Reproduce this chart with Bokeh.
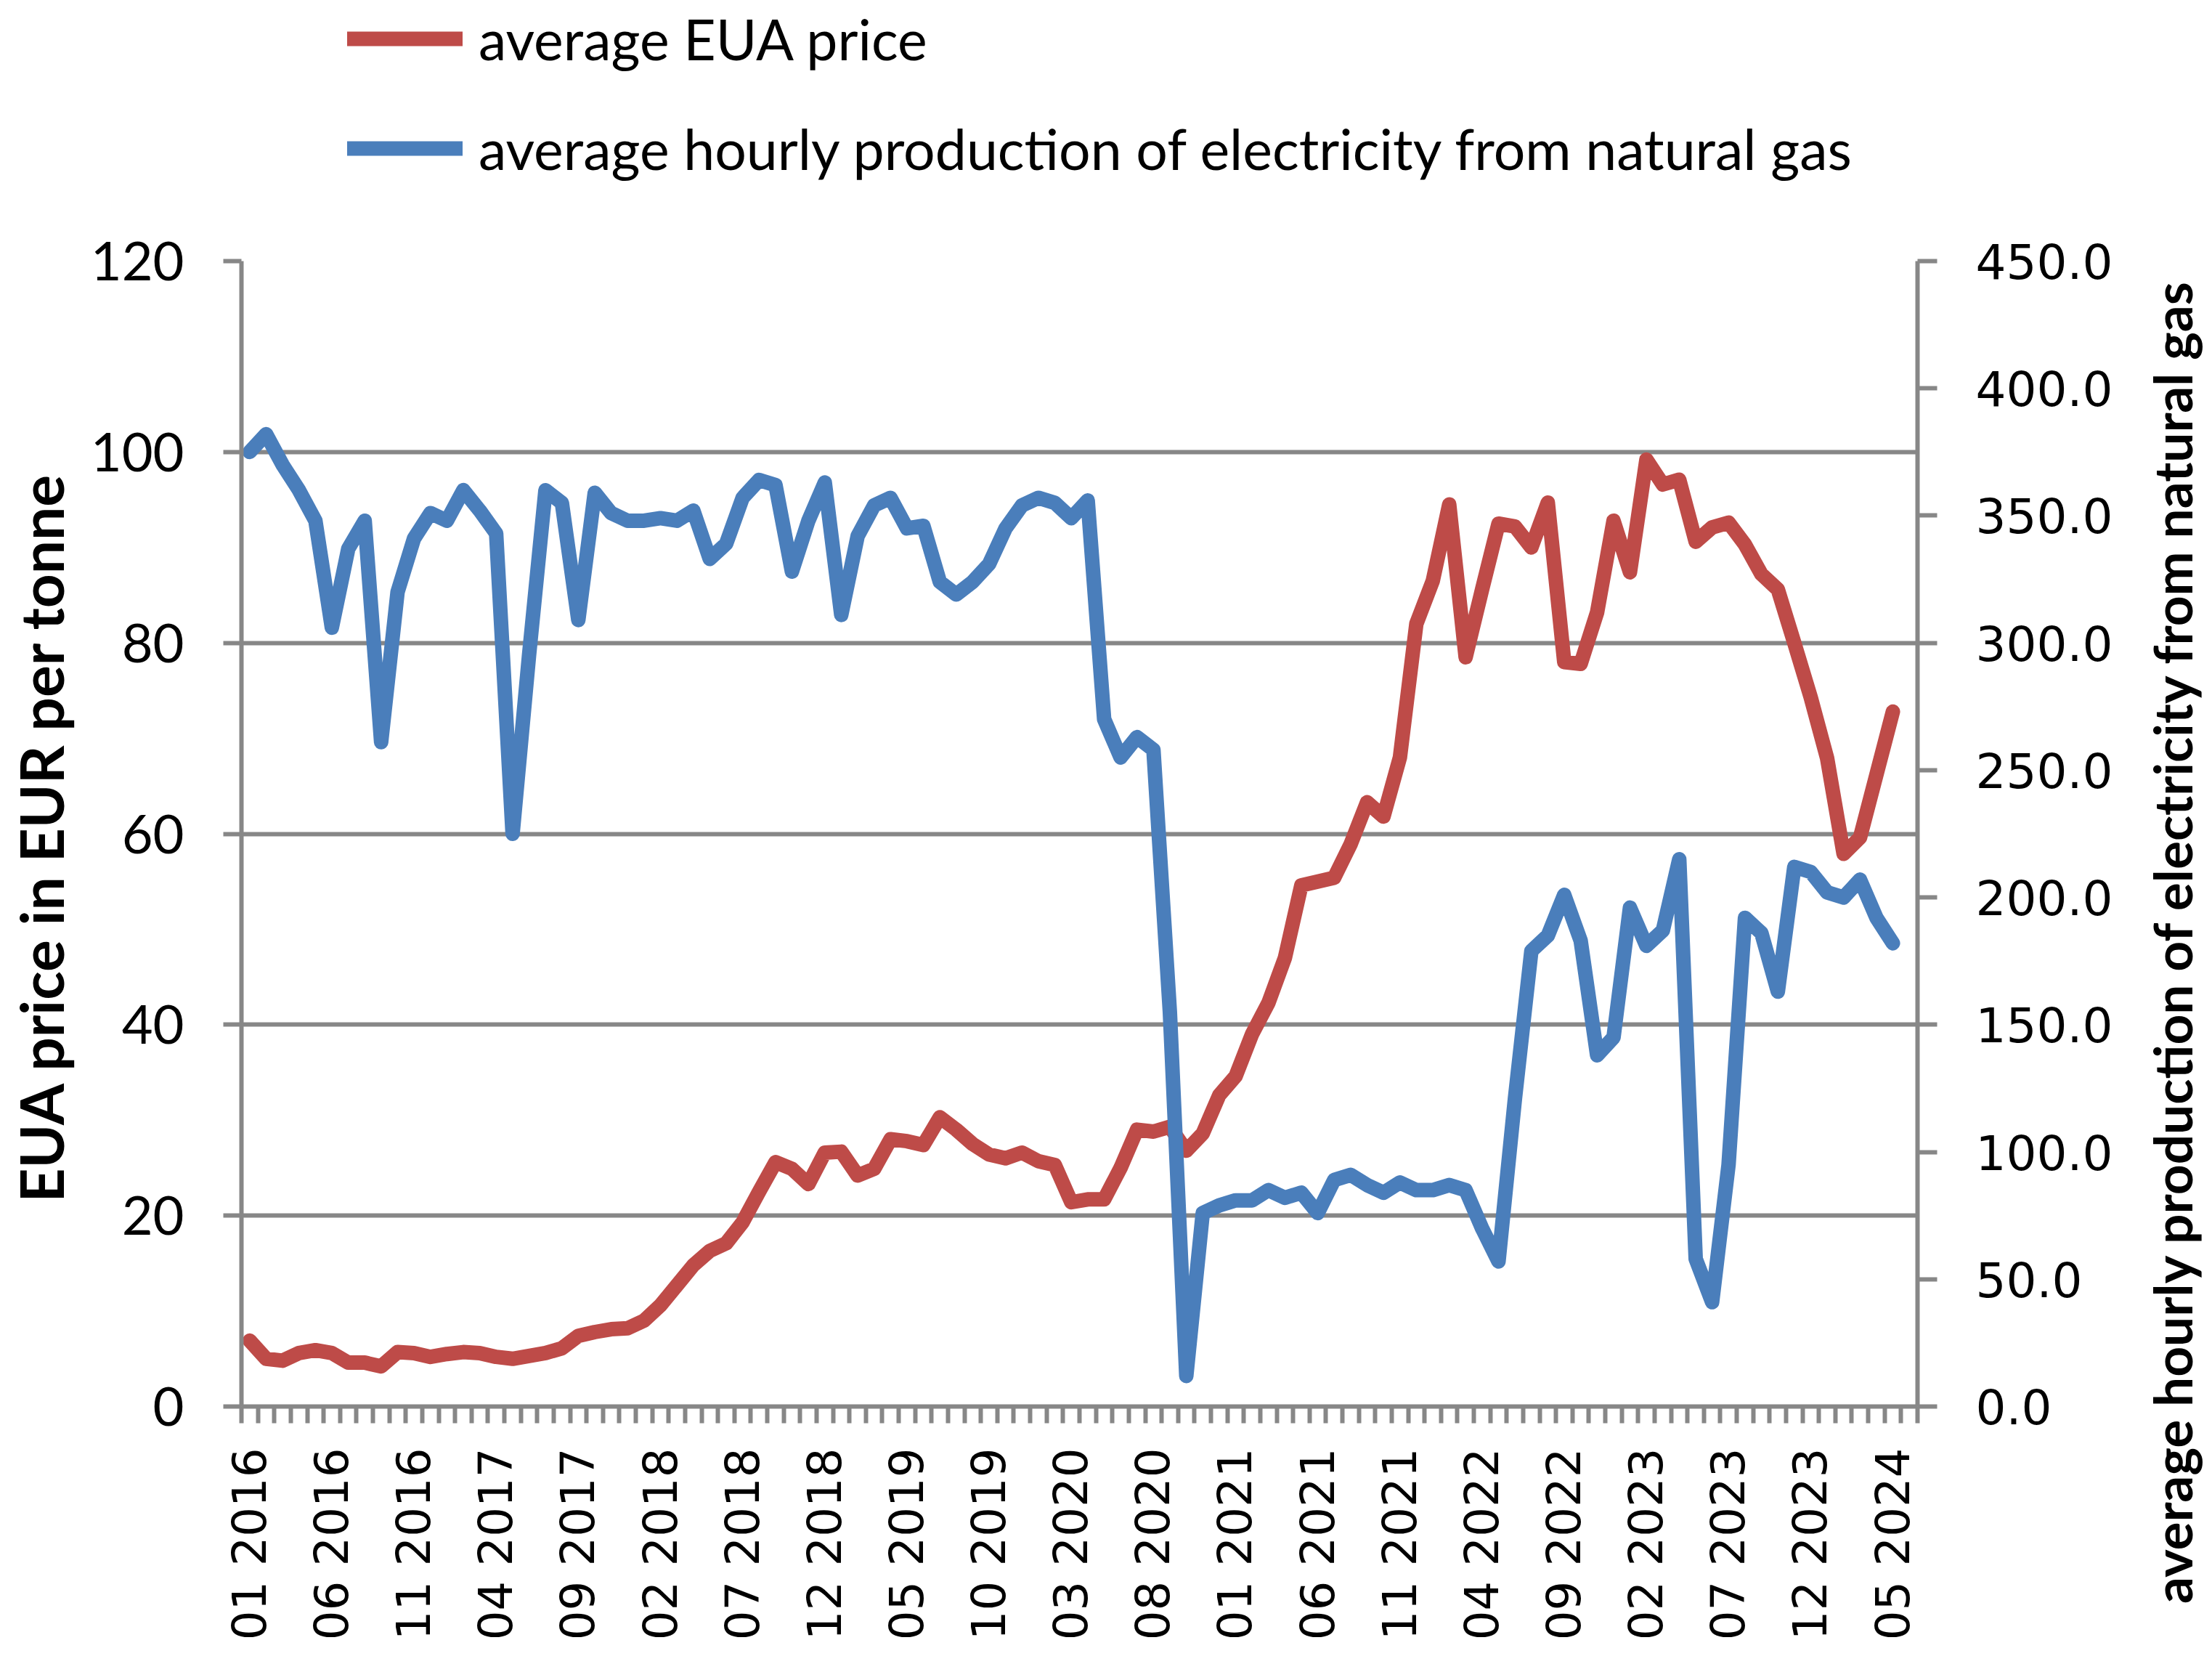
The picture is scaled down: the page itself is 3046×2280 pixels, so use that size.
import math
import numpy as np
from bokeh.plotting import figure
from bokeh.layouts import row, column
from bokeh.models import (Range1d, LinearAxis, FixedTicker, Legend, LegendItem,
                          Label, PrintfTickFormatter)
from bokeh.embed import file_html
from bokeh.resources import INLINE

# ---------------- data ----------------
# monthly categories 01 2016 .. 06 2024 (the last category has no data)
months = [f"{m:02d} {y}" for y in range(2016, 2025) for m in range(1, 13)][:102]

eua_price = [6.9, 5.0, 4.8, 5.6, 5.9, 5.6, 4.6, 4.6, 4.2, 5.7,
             5.6, 5.2, 5.5, 5.7, 5.6, 5.2, 5.0, 5.3, 5.6, 6.1,
             7.4, 7.8, 8.1, 8.2, 9.0, 10.6, 12.7, 14.8, 16.3, 17.1,
             19.3, 22.5, 25.6, 24.9, 23.3, 26.6, 26.7, 24.2, 24.9, 28.0,
             27.8, 27.4, 30.3, 29.0, 27.5, 26.4, 26.0, 26.6, 25.7, 25.3,
             21.4, 21.7, 21.7, 25.0, 29.0, 28.8, 29.3, 26.8, 28.6, 32.6,
             34.6, 39.0, 42.3, 47.0, 54.6, 55.0, 55.4, 58.9, 63.3, 61.8,
             68.0, 82.0, 86.5, 94.5, 78.5, 85.6, 92.5, 92.2, 90.0, 94.7,
             78.0, 77.8, 83.2, 92.8, 87.4, 99.2, 96.6, 97.1, 90.6, 92.1,
             92.6, 90.3, 87.2, 85.6, 80.0, 74.3, 67.9, 57.9, 59.6, 66.2,
             72.8]

gas_production = [375, 382, 370, 360, 348, 306, 337, 348, 261, 320,
                  341, 351, 348, 360, 352, 343, 225, 295, 360, 355,
                  309, 359, 351, 348, 348, 349, 348, 352, 333, 339,
                  357, 364, 362, 328, 348, 363, 311, 342, 354, 357,
                  345, 346, 324, 319, 324, 331, 345, 354, 357, 355,
                  349, 356, 270, 255, 263, 258, 155, 12, 76, 79,
                  81, 81, 85, 82, 84, 76, 89, 91, 87, 84,
                  88, 85, 85, 87, 85, 70, 57, 121, 179, 185,
                  201, 183, 138, 145, 196, 181, 187, 215, 58, 41,
                  95, 192, 186, 163, 212, 210, 202, 200, 207, 192,
                  182]

left_ticks = [0, 20, 40, 60, 80, 100, 120]
right_ticks = [0, 50, 100, 150, 200, 250, 300, 350, 400, 450]
label_step = 5

series_names = ["average EUA price",
                "average hourly production of electricity from natural gas"]
left_title = "EUA price in EUR per tonne"
right_title = "average hourly production of electricity from natural gas"

# ---------------- style / layout ----------------
RED = "#BE4B48"
BLUE = "#4A7EBB"
GRAY = "#878787"
LW, RW, HL = 110, 126, 300          # side strips and legend strip
FL, FT, FW, FH = 222, 59, 2308, 1577  # frame inside the main figure
FR, FB = 278, 342
MW = FL + FW + FR
H = HL + FT + FH + FB


def blank_fig(w, h):
    f = figure(width=w, height=h, output_backend="svg", toolbar_location=None,
               x_range=Range1d(0, w), y_range=Range1d(0, h),
               x_axis_type=None, y_axis_type=None, min_border=0)
    f.outline_line_color = None
    f.background_fill_color = "white"
    f.border_fill_color = "white"
    return f


x_idx = list(range(len(eua_price)))
n_cat = len(months)

p = figure(frame_width=FW, frame_height=FH, output_backend="svg", toolbar_location=None,
           x_range=Range1d(-0.5, n_cat - 0.5), y_range=Range1d(0, 120),
           min_border_left=FL, min_border_top=FT,
           min_border_right=FR, min_border_bottom=FB)
p.outline_line_color = None
p.background_fill_color = "white"
p.border_fill_color = "white"
p.extra_y_ranges = {"gas": Range1d(0, 450)}

# grid
p.xgrid.visible = False
p.ygrid[0].ticker = FixedTicker(ticks=left_ticks[1:])
p.ygrid[0].grid_line_color = GRAY
p.ygrid[0].grid_line_width = 6

# x axis
xa = p.xaxis[0]
label_pos = list(range(0, len(eua_price), label_step))
xa.ticker = FixedTicker(ticks=label_pos, minor_ticks=[i - 0.5 for i in range(n_cat + 1)])
xa.major_label_overrides = {i: months[i] for i in label_pos}
xa.major_label_orientation = math.pi / 2
xa.major_tick_out = 0
xa.major_tick_in = 0
xa.minor_tick_out = 23
xa.minor_tick_in = 0
xa.minor_tick_line_color = GRAY
xa.minor_tick_line_width = 6
xa.axis_line_color = GRAY
xa.axis_line_width = 6
xa.major_label_standoff = 34
xa.major_label_text_font = "DejaVu Sans"
xa.major_label_text_font_size = "64px"
xa.major_label_text_color = "black"

# left axis
ya = p.yaxis[0]
ya.ticker = FixedTicker(ticks=left_ticks)
ya.major_tick_out = 25
ya.major_tick_in = 0
ya.minor_tick_out = 0
ya.minor_tick_in = 0
ya.major_tick_line_color = GRAY
ya.major_tick_line_width = 6
ya.axis_line_color = GRAY
ya.axis_line_width = 6
ya.major_label_standoff = 54
ya.major_label_text_font = "Lato"
ya.major_label_text_font_size = "74px"
ya.major_label_text_color = "black"

# right axis
ra = LinearAxis(y_range_name="gas", ticker=FixedTicker(ticks=right_ticks),
                formatter=PrintfTickFormatter(format="%.1f"))
ra.major_tick_out = 27
ra.major_tick_in = 0
ra.minor_tick_out = 0
ra.minor_tick_in = 0
ra.major_tick_line_color = GRAY
ra.major_tick_line_width = 6
ra.axis_line_color = GRAY
ra.axis_line_width = 6
ra.major_label_standoff = 53
ra.major_label_text_font = "DejaVu Sans"
ra.major_label_text_font_size = "66px"
ra.major_label_text_color = "black"
p.add_layout(ra, "right")

# lines
line_style = dict(line_width=20, line_cap="round", line_join="round")
p.line(x_idx, eua_price, line_color=RED, **line_style)
p.line(x_idx, gas_production, y_range_name="gas", line_color=BLUE, **line_style)

# legend strip (its frame is aligned with the main frame by the column)
p_leg = blank_fig(MW, HL)
nan2 = np.array([np.nan, np.nan])
lr = p_leg.line(x=nan2, y=nan2, line_color=RED, **line_style)
lb = p_leg.line(x=nan2, y=nan2, line_color=BLUE, **line_style)
legend = Legend(items=[LegendItem(label=series_names[0], renderers=[lr]),
                       LegendItem(label=series_names[1], renderers=[lb])],
                location=(146, 50), orientation="vertical",
                glyph_width=159, glyph_height=92, label_height=92,
                spacing=59, padding=0, margin=0, label_standoff=22,
                border_line_color=None, background_fill_alpha=0,
                label_text_font="Lato", label_text_font_size="77px",
                label_text_color="black", label_text_baseline="middle")
p_leg.add_layout(legend, "center")

# axis title strips
p_left = blank_fig(LW, H)
p_left.add_layout(Label(x=55, y=H - 1152, text=left_title, angle=math.pi / 2,
                        text_align="center", text_baseline="middle",
                        text_font="Lato", text_font_style="bold",
                        text_font_size="82px", text_color="black"))
p_right = blank_fig(RW, H)
p_right.add_layout(Label(x=72, y=H - 1295, text=right_title, angle=math.pi / 2,
                         text_align="center", text_baseline="middle",
                         text_font="Lato", text_font_style="bold",
                         text_font_size="73px", text_color="black"))

layout = row(p_left, column(p_leg, p), p_right)
open("out.html", "w").write(file_html(layout, INLINE))
